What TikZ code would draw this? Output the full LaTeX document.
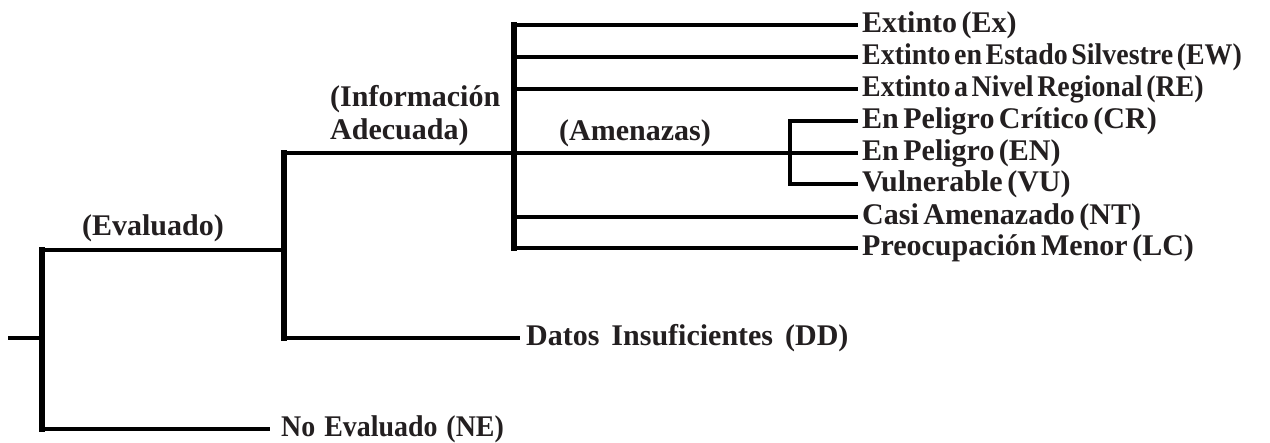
\documentclass[tikz,border=0pt]{standalone}
\usepackage{fontspec}
\setmainfont{Liberation Serif}
\newfontfamily\narrowfont[FakeStretch=0.93]{Liberation Serif}
\definecolor{InkGray}{HTML}{231F20}

\begin{document}
\begin{tikzpicture}[x=1pt,y=-1pt,
    branch/.style={line width=4.5pt,line join=miter},
    trunk/.style={line width=6.5pt,line cap=rect},
    leaf/.style={anchor=west,inner xsep=4pt,inner ysep=0pt,text=InkGray,
      font={\bfseries\fontsize{30}{30}\selectfont\spaceskip=0.15em\relax}},
    narrowleaf/.style={leaf,
      font={\narrowfont\bfseries\fontsize{30}{30}\selectfont\spaceskip=0.12em\relax}},
    outcome/.style={anchor=west,inner xsep=6pt,inner ysep=0pt,text=InkGray,
      font={\bfseries\fontsize{30}{30}\selectfont\spaceskip=0.4em\relax}},
    tag/.style={text=InkGray,inner sep=0pt,
      font={\bfseries\fontsize{30}{33}\selectfont}}]
  \useasboundingbox[fill=white] (0,0) rectangle (1270,443);

  % branch points
  \coordinate (root) at (8,338);
  \coordinate (eval) at (42,338);
  \coordinate (info) at (284,250);
  \coordinate (known) at (514,153);
  \coordinate (threat) at (790,153);

  % outcomes of the left part
  \node[outcome,inner xsep=11pt,
    font={\narrowfont\bfseries\fontsize{30}{30}\selectfont\spaceskip=0.3em\relax}]
    (ne) at (270,429) {No Evaluado (NE)};
  \node[outcome] (dd) at (520,338) {Datos Insuficientes (DD)};

  % categories
  \node[leaf] (ex) at (858,25) {Extinto (Ex)};
  \node[narrowleaf] (ew) at (858,57) {Extinto en Estado Silvestre (EW)};
  \node[narrowleaf] (re) at (858,89) {Extinto a Nivel Regional (RE)};
  \node[leaf] (cr) at (858,121) {En Peligro Crítico (CR)};
  \node[leaf] (en) at (858,153) {En Peligro (EN)};
  \node[leaf] (vu) at (858,184) {Vulnerable (VU)};
  \node[leaf] (nt) at (858,217) {Casi Amenazado (NT)};
  \node[leaf] (lc) at (858,248) {Preocupación Menor (LC)};

  % branch labels
  \node[tag] (evaltag) at (153,228) {(Evaluado)};
  \node[tag,anchor=west,align=left] (infotag) at (330,116) {(Información\\Adecuada)};
  \node[tag] (threattag) at (635,133) {(Amenazas)};

  \draw[branch] (root) -- (eval);
  \draw[branch] (eval) |- (info);
  \draw[branch] (eval) |- (ne);
  \draw[branch] (info) |- (known);
  \draw[branch] (info) |- (dd);
  \foreach \n in {ex,ew,re,nt,lc}
    \draw[branch] (known) |- (\n);
  \draw[branch] (known) -- (threat);
  \draw[branch] (threat) |- (cr);
  \draw[branch] (threat) -- (en);
  \draw[branch] (threat) |- (vu);

  % heavier upright strokes
  \draw[trunk] (info -| eval) -- (ne -| eval);
  \draw[trunk] (known -| info) -- (dd -| info);
  \draw[trunk] (ex -| known) -- (lc -| known);
\end{tikzpicture}
\end{document}
